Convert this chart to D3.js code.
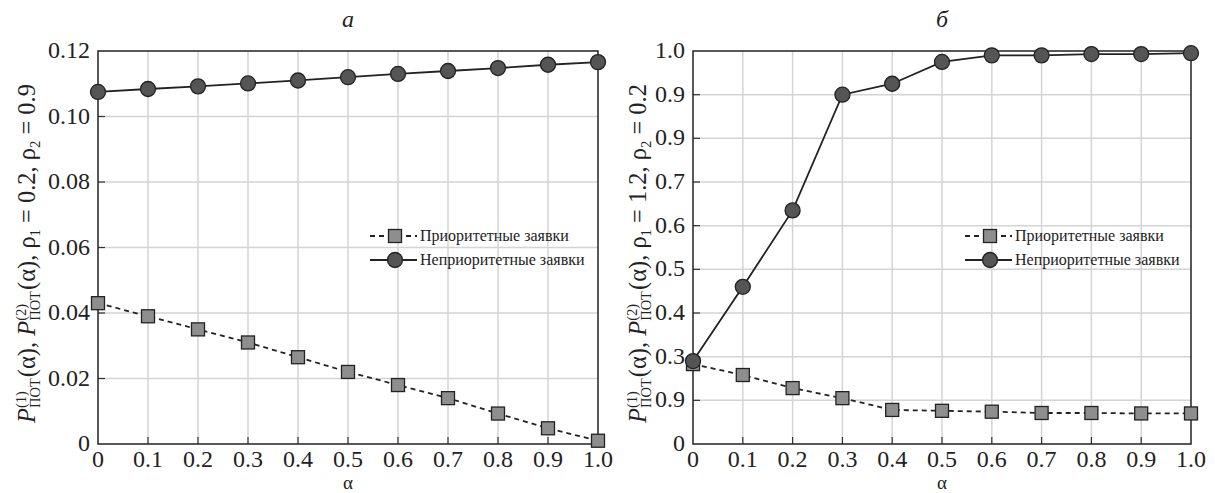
<!DOCTYPE html>
<html>
<head>
<meta charset="utf-8">
<script src="https://cdn.jsdelivr.net/npm/d3@7"></script>
<style>
  html, body { margin: 0; padding: 0; background: #fff; }
  svg { display: block; }
  text { font-family: "Liberation Serif", "Times New Roman", serif; fill: #222; white-space: pre; }
</style>
</head>
<body>
<svg id="chart" width="1215" height="493"></svg>
<script>
// ---------------- data ----------------
const alpha = [0, 0.1, 0.2, 0.3, 0.4, 0.5, 0.6, 0.7, 0.8, 0.9, 1.0];
const xTickLabels = ["0", "0.1", "0.2", "0.3", "0.4", "0.5", "0.6", "0.7", "0.8", "0.9", "1.0"];

const leftPriority    = [0.043, 0.039, 0.035, 0.031, 0.0265, 0.022, 0.018, 0.014, 0.0093, 0.0048, 0.001];
const leftNonPriority = [0.1075, 0.1084, 0.1092, 0.1101, 0.1110, 0.1120, 0.1130, 0.1139, 0.1148, 0.1158, 0.1166];
const leftYTicks      = [0, 0.02, 0.04, 0.06, 0.08, 0.10, 0.12];
const leftYTickLabels = ["0", "0.02", "0.04", "0.06", "0.08", "0.10", "0.12"];

const rightPriority    = [0.283, 0.258, 0.228, 0.205, 0.178, 0.176, 0.174, 0.171, 0.171, 0.170, 0.170];
const rightNonPriority = [0.29, 0.46, 0.635, 0.90, 0.925, 0.975, 0.99, 0.99, 0.993, 0.993, 0.995];
const rightYTicks      = [0.1, 0.2, 0.3, 0.4, 0.5, 0.6, 0.7, 0.8, 0.9, 1.0];
const rightYTickLabels = ["0", "0.9", "0.3", "0.4", "0.5", "0.6", "0.7", "0.9", "0.9", "1.0"];

const seriesNames = ["Приоритетные заявки", "Неприоритетные заявки"];
const panelTitles = ["а", "б"];
const xTitle = "α";

// ---------------- layout ----------------
const svg = d3.select("#chart");
const plotTop = 51, plotBottom = 444;

const panels = [
  { x0: 98, x1: 598, title: panelTitles[0], yDomain: [0, 0.12], yTicks: leftYTicks, yLabels: leftYTickLabels,
    pri: leftPriority, non: leftNonPriority, rho: ["0.2", "0.9"], yTitleX: 27, legendX: 370 },
  { x0: 693, x1: 1191, title: panelTitles[1], yDomain: [0.1, 1.0], yTicks: rightYTicks, yLabels: rightYTickLabels,
    pri: rightPriority, non: rightNonPriority, rho: ["1.2", "0.2"], yTitleX: 638, legendX: 965 }
];

function drawYTitle(g, cx, cy, rho) {
  const big = 24.5, small = 14.5;
  const grp = g.append("g");
  let x = 0;
  function piece(t, opts) {
    return grp.append("text").attr("x", x).attr("y", opts.dy || 0)
      .attr("font-size", opts.size || big)
      .attr("font-style", opts.italic ? "italic" : "normal")
      .text(t);
  }
  function advance(el) { x += el.node().getComputedTextLength(); }
  function supsub(sup, sub) {
    const a = piece(sup, { size: small, dy: -9 });
    const b = piece(sub, { size: small, dy: 5 });
    x += Math.max(a.node().getComputedTextLength(), b.node().getComputedTextLength()) + 1;
  }
  const NB = "\u00A0";
  advance(piece("P", { italic: true }));
  supsub("(1)", "ПОТ");
  advance(piece("(α)," + NB, {}));
  advance(piece("P", { italic: true }));
  supsub("(2)", "ПОТ");
  advance(piece("(α)," + NB + "ρ", {}));
  advance(piece("1", { size: small, dy: 5 }));
  advance(piece(NB + "=" + NB + rho[0] + "," + NB + "ρ", {}));
  advance(piece("2", { size: small, dy: 5 }));
  advance(piece(NB + "=" + NB + rho[1], {}));
  const W = x;
  grp.attr("transform", `translate(${cx},${cy}) rotate(-90) translate(${-W / 2},8)`);
}

panels.forEach((p, i) => {
  const g = svg.append("g");
  const xs = d3.scaleLinear().domain([0, 1]).range([p.x0, p.x1]);
  const ys = d3.scaleLinear().domain(p.yDomain).range([plotBottom, plotTop]);
  const innerY = p.yTicks.filter(v => v > p.yDomain[0] + 1e-9 && v < p.yDomain[1] - 1e-9);
  const innerX = alpha.slice(1, -1);

  // grid
  g.append("g").selectAll("line").data(innerX).join("line")
    .attr("x1", d => xs(d)).attr("x2", d => xs(d)).attr("y1", plotTop).attr("y2", plotBottom)
    .attr("stroke", "#d4d4d4").attr("stroke-width", 1.5);
  g.append("g").selectAll("line").data(innerY).join("line")
    .attr("y1", d => ys(d)).attr("y2", d => ys(d)).attr("x1", p.x0).attr("x2", p.x1)
    .attr("stroke", "#d4d4d4").attr("stroke-width", 1.5);

  // inner tick marks
  g.append("g").selectAll("line").data(innerX).join("line")
    .attr("x1", d => xs(d)).attr("x2", d => xs(d)).attr("y1", plotBottom).attr("y2", plotBottom - 7)
    .attr("stroke", "#333").attr("stroke-width", 1.2);
  g.append("g").selectAll("line").data(innerY).join("line")
    .attr("y1", d => ys(d)).attr("y2", d => ys(d)).attr("x1", p.x0).attr("x2", p.x0 + 7)
    .attr("stroke", "#333").attr("stroke-width", 1.2);

  // frame
  g.append("rect").attr("x", p.x0).attr("y", plotTop).attr("width", p.x1 - p.x0).attr("height", plotBottom - plotTop)
    .attr("fill", "none").attr("stroke", "#222").attr("stroke-width", 1.5);

  // tick labels
  g.append("g").selectAll("text").data(alpha).join("text")
    .attr("x", d => xs(d)).attr("y", plotBottom + 22.5).attr("text-anchor", "middle")
    .attr("font-size", 24).text((d, j) => xTickLabels[j]);
  g.append("g").selectAll("text").data(p.yTicks).join("text")
    .attr("x", p.x0 - 8).attr("y", d => ys(d) + 7).attr("text-anchor", "end")
    .attr("font-size", 24).text((d, j) => p.yLabels[j]);

  // axis titles
  g.append("text").attr("x", (p.x0 + p.x1) / 2).attr("y", 489).attr("text-anchor", "middle")
    .attr("font-size", 19).text(xTitle);
  g.append("text").attr("x", (p.x0 + p.x1) / 2).attr("y", 27).attr("text-anchor", "middle")
    .attr("font-size", 24).attr("font-style", "italic").text(p.title);
  drawYTitle(g, p.yTitleX, (plotTop + plotBottom) / 2 + 6, p.rho);

  // lines
  const line = d3.line().x((d, j) => xs(alpha[j])).y(d => ys(d));
  g.append("path").datum(p.pri).attr("d", line).attr("fill", "none")
    .attr("stroke", "#222").attr("stroke-width", 1.8).attr("stroke-dasharray", "5,4");
  g.append("path").datum(p.non).attr("d", line).attr("fill", "none")
    .attr("stroke", "#222").attr("stroke-width", 1.8);

  // markers
  const sq = 13;
  g.append("g").selectAll("rect").data(p.pri).join("rect")
    .attr("x", (d, j) => xs(alpha[j]) - sq / 2).attr("y", d => ys(d) - sq / 2)
    .attr("width", sq).attr("height", sq)
    .attr("fill", "#8e8e8e").attr("stroke", "#222").attr("stroke-width", 1.3);
  g.append("g").selectAll("circle").data(p.non).join("circle")
    .attr("cx", (d, j) => xs(alpha[j])).attr("cy", d => ys(d)).attr("r", 7.5)
    .attr("fill", "#555").attr("stroke", "#222").attr("stroke-width", 1.3);

  // legend
  const lx = p.legendX, ly1 = 236, ly2 = 260;
  const lg = g.append("g");
  lg.append("line").attr("x1", lx).attr("x2", lx + 47).attr("y1", ly1).attr("y2", ly1)
    .attr("stroke", "#222").attr("stroke-width", 1.8).attr("stroke-dasharray", "5,4");
  lg.append("rect").attr("x", lx + 25 - sq / 2).attr("y", ly1 - sq / 2).attr("width", sq).attr("height", sq)
    .attr("fill", "#8e8e8e").attr("stroke", "#222").attr("stroke-width", 1.3);
  lg.append("text").attr("x", lx + 50).attr("y", ly1 + 5).attr("font-size", 16).text(seriesNames[0]);
  lg.append("line").attr("x1", lx).attr("x2", lx + 47).attr("y1", ly2).attr("y2", ly2)
    .attr("stroke", "#222").attr("stroke-width", 1.8);
  lg.append("circle").attr("cx", lx + 25).attr("cy", ly2).attr("r", 7.5)
    .attr("fill", "#555").attr("stroke", "#222").attr("stroke-width", 1.3);
  lg.append("text").attr("x", lx + 50).attr("y", ly2 + 5).attr("font-size", 16).text(seriesNames[1]);
});
</script>
</body>
</html>
